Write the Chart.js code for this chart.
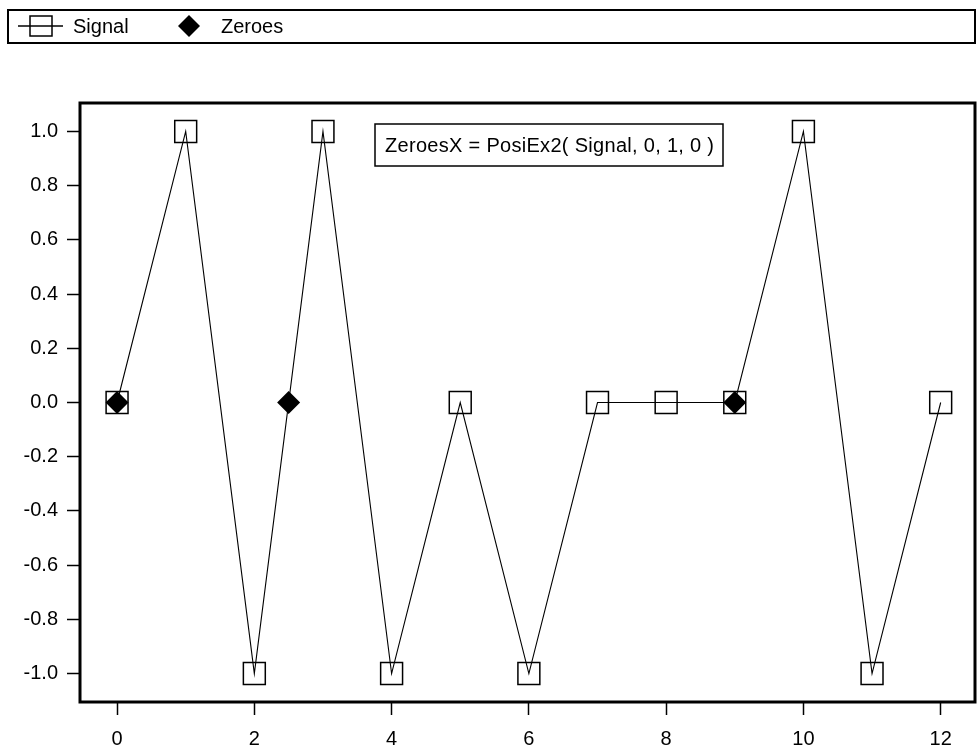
<!DOCTYPE html>
<html>
<head>
<meta charset="utf-8">
<script src="https://cdn.jsdelivr.net/npm/chart.js@4.4.1/dist/chart.umd.min.js"></script>
<style>
  html, body { margin: 0; padding: 0; background: #fff; }
</style>
</head>
<body>
<canvas id="chart" width="980" height="749"></canvas>
<script>
// ===================== Data =====================
const signalX = [0, 1, 2, 3, 4, 5, 6, 7, 8, 9, 10, 11, 12];
const signalY = [0, 1, -1, 1, -1, 0, -1, 0, 0, 0, 1, -1, 0];
const zeroesX = [0, 2.5, 9];
const zeroesY = [0, 0, 0];
const xTicks = [0, 2, 4, 6, 8, 10, 12];
const yTicks = [-1.0, -0.8, -0.6, -0.4, -0.2, 0.0, 0.2, 0.4, 0.6, 0.8, 1.0];
const seriesNames = ['Signal', 'Zeroes'];
const formulaText = 'ZeroesX = PosiEx2( Signal, 0, 1, 0 )';

const FONT = "'Liberation Sans', Arial, sans-serif";
const FONT_SIZE = 20;

function toPoints(xs, ys) {
  return xs.map(function (x, i) { return { x: x, y: ys[i] }; });
}

// ===================== Frame, legend, note =====================
const decorPlugin = {
  id: 'decor',
  afterDraw: function (chart) {
    const ctx = chart.ctx;
    const a = chart.chartArea;
    ctx.save();

    // plot frame
    ctx.strokeStyle = '#000';
    ctx.lineWidth = 3;
    ctx.strokeRect(a.left, a.top, a.right - a.left, a.bottom - a.top);

    // legend box
    ctx.lineWidth = 2;
    ctx.strokeRect(8, 10, 967, 33);
    ctx.font = FONT_SIZE + 'px ' + FONT;
    ctx.fillStyle = '#000';
    ctx.textBaseline = 'middle';
    const ly = 26;
    // Signal: line + open square
    ctx.lineWidth = 1.5;
    ctx.beginPath();
    ctx.moveTo(18, ly);
    ctx.lineTo(63, ly);
    ctx.stroke();
    ctx.strokeRect(30, ly - 10, 22, 20);
    ctx.fillText(chart.data.datasets[0].label, 73, ly + 1);
    // Zeroes: filled diamond
    ctx.beginPath();
    ctx.moveTo(189, ly - 11);
    ctx.lineTo(200, ly);
    ctx.lineTo(189, ly + 11);
    ctx.lineTo(178, ly);
    ctx.closePath();
    ctx.fill();
    ctx.fillText(chart.data.datasets[1].label, 221, ly + 1);

    // formula note
    ctx.fillStyle = '#fff';
    ctx.fillRect(375, 124, 348, 42);
    ctx.lineWidth = 1.5;
    ctx.strokeRect(375, 124, 348, 42);
    ctx.fillStyle = '#000';
    ctx.letterSpacing = '0.3px';
    ctx.fillText(formulaText, 385, 146);

    ctx.restore();
  }
};

// ===================== Chart =====================
new Chart(document.getElementById('chart'), {
  type: 'scatter',
  data: {
    datasets: [{
      label: seriesNames[0],
      data: toPoints(signalX, signalY),
      showLine: true,
      borderColor: '#000',
      borderWidth: 1.1,
      pointStyle: 'rect',
      pointRadius: 15.5,
      pointBorderWidth: 1.5,
      pointBorderColor: '#000',
      pointBackgroundColor: 'rgba(0,0,0,0)',
      order: 1
    }, {
      label: seriesNames[1],
      data: toPoints(zeroesX, zeroesY),
      showLine: false,
      pointStyle: 'rectRot',
      pointRadius: 11.5,
      pointBorderWidth: 0,
      pointBackgroundColor: '#000',
      pointBorderColor: '#000',
      order: 0
    }]
  },
  options: {
    responsive: false,
    animation: false,
    layout: {
      autoPadding: false,
      padding: { left: 0, top: 103, right: 5, bottom: 0 }
    },
    plugins: {
      legend: { display: false },
      tooltip: { enabled: false }
    },
    scales: {
      x: {
        type: 'linear',
        min: -0.54,
        max: 12.5,
        afterBuildTicks: function (scale) {
          scale.ticks = xTicks.map(function (v) { return { value: v }; });
        },
        afterFit: function (scale) {
          scale.height = 47;
          scale.paddingLeft = 0;
          scale.paddingRight = 0;
        },
        border: { display: false },
        grid: {
          drawOnChartArea: false,
          drawTicks: true,
          tickLength: 13,
          tickWidth: 1.5,
          tickColor: '#000'
        },
        ticks: {
          color: '#000',
          padding: 12,
          maxRotation: 0,
          font: { family: FONT, size: FONT_SIZE },
          callback: function (v) { return String(v); }
        }
      },
      y: {
        type: 'linear',
        min: -1.105,
        max: 1.105,
        afterBuildTicks: function (scale) {
          scale.ticks = yTicks.map(function (v) { return { value: v }; });
        },
        afterFit: function (scale) {
          scale.width = 80;
          scale.paddingTop = 0;
          scale.paddingBottom = 0;
        },
        border: { display: false },
        grid: {
          drawOnChartArea: false,
          drawTicks: true,
          tickLength: 13,
          tickWidth: 1.5,
          tickColor: '#000'
        },
        ticks: {
          color: '#000',
          padding: 9,
          font: { family: FONT, size: FONT_SIZE },
          callback: function (v) { return Number(v).toFixed(1); }
        }
      }
    }
  },
  plugins: [decorPlugin]
});
</script>
</body>
</html>
